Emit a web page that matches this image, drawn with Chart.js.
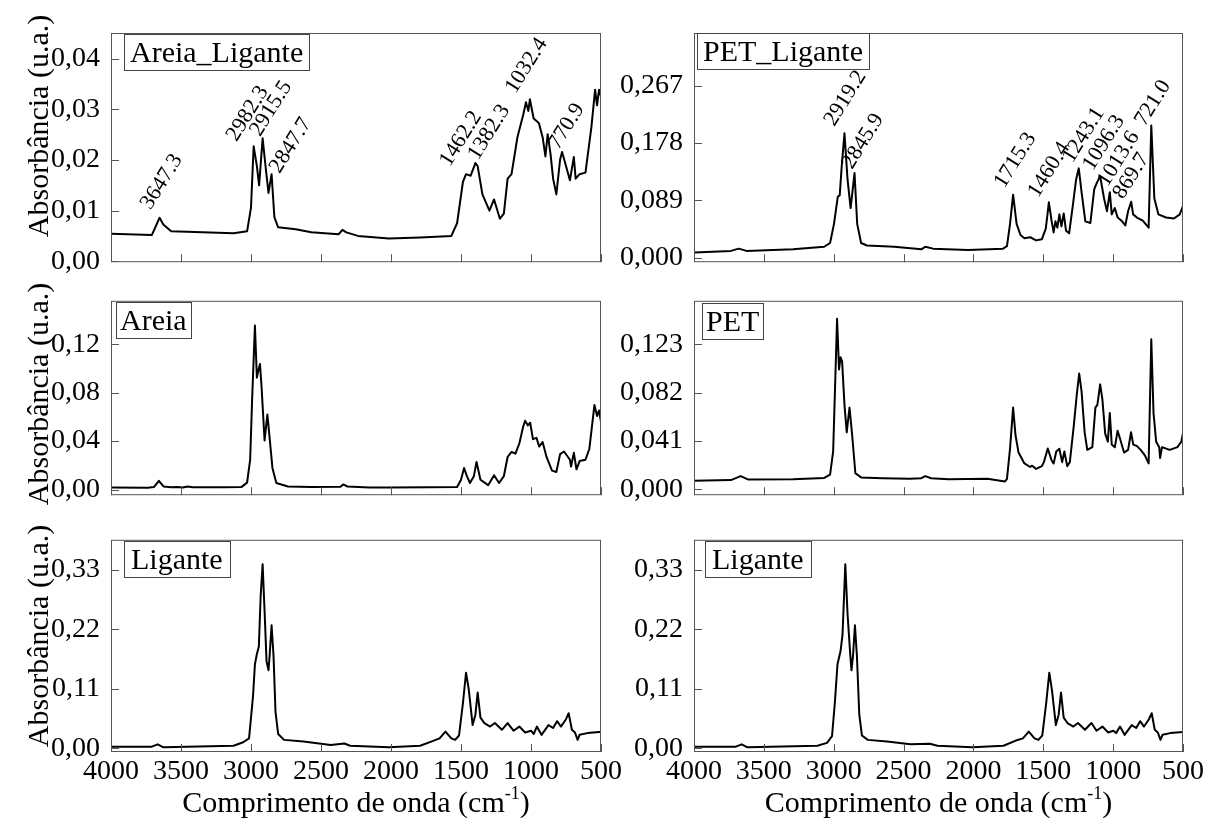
<!DOCTYPE html>
<html>
<head>
<meta charset="utf-8">
<title>FTIR</title>
<script src="https://cdn.jsdelivr.net/npm/chart.js@4.4.1/dist/chart.umd.min.js"></script>
<style>
  html, body { margin: 0; padding: 0; background: #fff; overflow: hidden; }
  body { width: 1208px; height: 823px; position: relative; }
  canvas { position: absolute; }
</style>
</head>
<body>
<canvas id="tl"></canvas>
<canvas id="ml"></canvas>
<canvas id="bl"></canvas>
<canvas id="tr"></canvas>
<canvas id="mr"></canvas>
<canvas id="br"></canvas>
<script>
// x axis (wavenumber, cm-1)
const xTicks = [4000, 3500, 3000, 2500, 2000, 1500, 1000, 500];

// Areia_Ligante
const areiaLiganteWn = [4000,3708,3680,3653,3625,3570,3125,3028,3000,2981,2958,2942,2917,2894,2875,2853,2833,2806,2681,2569,2375,2347,2319,2236,2014,1792,1569,1528,1486,1464,1431,1397,1381,1347,1297,1264,1222,1194,1167,1139,1097,1056,1036,1019,1008,981,944,917,897,881,861,842,819,792,778,750,722,694,681,653,611,569,542,528,514,500];
const areiaLiganteAbs = [0.0054,0.0052,0.0069,0.0086,0.0072,0.0059,0.0055,0.0059,0.0106,0.0227,0.0188,0.0150,0.0243,0.0182,0.0135,0.0172,0.0087,0.0067,0.0063,0.0057,0.0053,0.0062,0.0057,0.0050,0.0045,0.0047,0.0050,0.0075,0.0157,0.0172,0.0169,0.0194,0.0188,0.0132,0.0100,0.0122,0.0084,0.0094,0.0163,0.0172,0.0245,0.0289,0.0314,0.0297,0.0320,0.0282,0.0273,0.0245,0.0207,0.0251,0.0213,0.0163,0.0132,0.0201,0.0216,0.0188,0.0160,0.0206,0.0163,0.0172,0.0175,0.0264,0.0339,0.0308,0.0339,0.0326];
const areiaLiganteTicks = [0, 0.01, 0.02, 0.03, 0.04];
// [text, wavenumber, absorbance] where the rotated label starts
const areiaLigantePeaks = [
  ["3647.3", 3717, 0.0100], ["2982.3", 3103, 0.0235], ["2915.5", 2936, 0.0245], ["2847.7", 2796, 0.0172],
  ["1462.2", 1581, 0.0185], ["1382.3", 1379, 0.0198], ["1032.4", 1111, 0.0330], ["770.9", 804, 0.0219]
];

// Areia
const areiaWn = [4000,3736,3694,3658,3625,3569,3528,3486,3453,3417,3208,3069,3028,3006,2992,2972,2958,2950,2936,2925,2903,2883,2867,2847,2819,2736,2569,2361,2342,2311,2153,2014,1736,1528,1500,1478,1458,1436,1408,1389,1361,1306,1264,1228,1194,1167,1139,1111,1083,1056,1042,1022,1006,986,961,942,917,889,850,819,792,764,722,714,694,675,653,611,583,547,528,514,500];
const areiaAbs = [0.0016,0.0014,0.0020,0.0072,0.0025,0.0018,0.0020,0.0016,0.0025,0.0018,0.0018,0.0020,0.0057,0.0246,0.0744,0.1354,0.0924,0.0970,0.1037,0.0856,0.0405,0.0619,0.0427,0.0178,0.0054,0.0025,0.0020,0.0022,0.0042,0.0025,0.0016,0.0016,0.0018,0.0020,0.0081,0.0178,0.0110,0.0054,0.0110,0.0228,0.0081,0.0036,0.0118,0.0054,0.0110,0.0269,0.0310,0.0296,0.0382,0.0518,0.0568,0.0529,0.0552,0.0416,0.0427,0.0355,0.0393,0.0269,0.0156,0.0145,0.0292,0.0314,0.0246,0.0190,0.0303,0.0167,0.0235,0.0246,0.0337,0.0698,0.0608,0.0653,0.0560];
const areiaTicks = [0, 0.04, 0.08, 0.12];

// Ligante (left)
const liganteWn = [4000,3708,3667,3625,3125,3056,3014,2986,2972,2958,2944,2931,2917,2903,2889,2875,2867,2853,2839,2825,2806,2764,2625,2431,2333,2292,2014,1792,1708,1653,1611,1569,1542,1514,1486,1464,1444,1417,1397,1381,1361,1333,1292,1258,1208,1167,1125,1083,1042,1000,981,958,925,875,842,814,786,750,731,708,686,667,653,597,514,500];
const liganteAbs = [0.0033,0.0033,0.0077,0.0022,0.0050,0.0115,0.0186,0.0952,0.1555,0.1746,0.1883,0.2813,0.3404,0.2540,0.1609,0.1445,0.1710,0.2277,0.1710,0.0678,0.0268,0.0159,0.0131,0.0066,0.0093,0.0050,0.0022,0.0050,0.0131,0.0186,0.0312,0.0186,0.0159,0.0240,0.0843,0.1401,0.1080,0.0432,0.0624,0.1034,0.0570,0.0470,0.0405,0.0470,0.0345,0.0470,0.0328,0.0405,0.0296,0.0328,0.0268,0.0405,0.0252,0.0432,0.0378,0.0504,0.0405,0.0541,0.0652,0.0345,0.0296,0.0159,0.0252,0.0284,0.0306,0.0306];
const liganteTicks = [0, 0.11, 0.22, 0.33];

// PET_Ligante
const petLiganteWn = [4000,3736,3680,3624,3291,3068,3026,2998,2971,2957,2943,2923,2901,2879,2851,2832,2804,2762,2567,2373,2345,2289,2039,1788,1760,1738,1716,1691,1663,1635,1594,1552,1510,1482,1460,1440,1426,1413,1399,1385,1370,1354,1337,1315,1288,1265,1246,1226,1199,1163,1135,1116,1093,1065,1044,1024,1010,988,968,940,913,893,871,857,830,788,746,727,705,676,621,565,523,501];
const petLiganteAbs = [0.0084,0.0108,0.0143,0.0108,0.0133,0.0172,0.0231,0.0527,0.0945,0.0970,0.1412,0.1929,0.1215,0.0772,0.1314,0.0527,0.0231,0.0192,0.0172,0.0133,0.0172,0.0143,0.0123,0.0143,0.0182,0.0527,0.0979,0.0527,0.0354,0.0305,0.0320,0.0271,0.0290,0.0453,0.0861,0.0566,0.0394,0.0566,0.0468,0.0674,0.0488,0.0689,0.0419,0.0380,0.0822,0.1215,0.1387,0.1018,0.0566,0.0541,0.1067,0.1166,0.1265,0.0920,0.0723,0.1018,0.0674,0.0772,0.0625,0.0576,0.0502,0.0723,0.0870,0.0674,0.0625,0.0576,0.0468,0.2052,0.0920,0.0674,0.0625,0.0610,0.0674,0.0797];
const petLiganteTicks = [0, 0.089, 0.178, 0.267];
const petLigantePeaks = [
  ["2919.2", 2996, 0.2027], ["2845.9", 2870, 0.1362], ["1715.3", 1780, 0.1067], ["1460.4", 1537, 0.0920],
  ["1243.1", 1291, 0.1460], ["1096.3", 1146, 0.1340], ["1013.6", 1040, 0.1090], ["869.7", 929, 0.0896],
  ["721.0", 774, 0.2027]
];

// PET
const petWn = [4000,3736,3666,3611,3291,3068,3026,3004,2990,2976,2962,2951,2940,2923,2907,2887,2868,2845,2804,2651,2456,2373,2345,2303,2178,1900,1774,1760,1738,1716,1699,1677,1635,1594,1580,1552,1510,1496,1468,1440,1426,1407,1385,1365,1349,1329,1310,1282,1260,1243,1226,1204,1185,1149,1127,1113,1093,1077,1057,1038,1024,1010,988,968,950,922,893,872,856,831,803,773,746,727,711,692,670,664,650,595,540,512,501];
const petAbs = [0.0074,0.0079,0.0113,0.0083,0.0086,0.0097,0.0125,0.0322,0.0878,0.1445,0.1017,0.1119,0.1085,0.0716,0.0484,0.0693,0.0461,0.0137,0.0102,0.0095,0.0090,0.0095,0.0113,0.0095,0.0086,0.0090,0.0067,0.0090,0.0345,0.0693,0.0461,0.0312,0.0220,0.0190,0.0201,0.0174,0.0197,0.0231,0.0347,0.0245,0.0220,0.0322,0.0345,0.0231,0.0322,0.0197,0.0231,0.0536,0.0808,0.0982,0.0831,0.0484,0.0335,0.0358,0.0693,0.0716,0.0890,0.0763,0.0473,0.0404,0.0647,0.0380,0.0357,0.0497,0.0427,0.0312,0.0335,0.0484,0.0380,0.0369,0.0335,0.0289,0.0220,0.1272,0.0647,0.0404,0.0358,0.0266,0.0358,0.0335,0.0358,0.0404,0.0473];
const petTicks = [0, 0.041, 0.082, 0.123];

// Ligante (right)
const ligante2Wn = [4000,3700,3659,3617,3117,3048,3012,2992,2973,2951,2937,2917,2901,2881,2873,2862,2848,2834,2817,2798,2756,2618,2451,2312,2257,2007,1785,1701,1646,1604,1563,1535,1507,1479,1457,1438,1410,1390,1373,1354,1327,1285,1252,1202,1155,1119,1077,1035,999,979,951,918,867,835,807,779,744,724,702,680,661,647,591,500];
const ligante2Abs = [0.0033,0.0033,0.0077,0.0022,0.0050,0.0104,0.0230,0.0843,0.1555,0.1800,0.2102,0.3404,0.2485,0.1710,0.1445,0.1710,0.2277,0.1710,0.0624,0.0241,0.0159,0.0131,0.0077,0.0088,0.0050,0.0022,0.0050,0.0142,0.0186,0.0312,0.0186,0.0159,0.0240,0.0843,0.1401,0.1080,0.0432,0.0624,0.1034,0.0570,0.0470,0.0405,0.0470,0.0345,0.0470,0.0328,0.0405,0.0296,0.0328,0.0284,0.0405,0.0252,0.0432,0.0378,0.0504,0.0405,0.0541,0.0652,0.0345,0.0296,0.0159,0.0252,0.0284,0.0306];

const SERIF = '"Liberation Serif", "Times New Roman", serif';
const frameGray = '#555';

function comma(v, d) {
  return v.toFixed(d).replace('.', ',');
}

function makePanel(id, o) {
  const cv = document.getElementById(id);
  cv.width = o.w;
  cv.height = o.h;
  cv.style.left = o.left + 'px';
  cv.style.top = o.top + 'px';

  // frame, inward ticks, name box, peak labels and axis titles
  const decor = {
    id: 'decor_' + id,
    afterDraw(chart) {
      const ctx = chart.ctx, a = chart.chartArea;
      const sx = chart.scales.x, sy = chart.scales.y;
      ctx.save();
      ctx.strokeStyle = frameGray;
      ctx.lineWidth = 1;
      ctx.strokeRect(a.left + 0.5, a.top + 0.5, a.right - a.left - 1, a.bottom - a.top - 1);
      ctx.beginPath();
      xTicks.forEach(v => {
        const px = Math.round(sx.getPixelForValue(v)) + 0.5;
        ctx.moveTo(px, a.bottom);
        ctx.lineTo(px, a.bottom - 8);
      });
      o.yTicks.forEach(v => {
        const py = Math.round(sy.getPixelForValue(v)) + 0.5;
        ctx.moveTo(a.left, py);
        ctx.lineTo(a.left + 8, py);
      });
      ctx.stroke();

      ctx.fillStyle = '#000';
      ctx.textAlign = 'left';
      ctx.textBaseline = 'alphabetic';
      ctx.font = '30px ' + SERIF;
      const tw = ctx.measureText(o.name).width;
      const bx = a.left + o.boxDx, by = a.top + o.boxDy;
      ctx.strokeStyle = '#444';
      ctx.strokeRect(Math.round(bx) + 0.5, Math.round(by) + 0.5, Math.round(tw + 2 * o.boxPad), 36);
      ctx.fillText(o.name, bx + o.boxPad, by + 28);

      ctx.font = '22px ' + SERIF;
      (o.peaks || []).forEach(p => {
        ctx.save();
        ctx.translate(sx.getPixelForValue(p[1]), sy.getPixelForValue(p[2]));
        ctx.rotate(-58 * Math.PI / 180);
        ctx.fillText(p[0], 0, 0);
        ctx.restore();
      });

      if (o.yTitleY) {
        ctx.save();
        ctx.font = '30px ' + SERIF;
        ctx.translate(40, o.yTitleY);
        ctx.rotate(-Math.PI / 2);
        ctx.textAlign = 'center';
        ctx.textBaseline = 'middle';
        ctx.fillText('Absorbância (u.a.)', 0, 0);
        ctx.restore();
      }

      if (o.xTitleY) {
        const p1 = 'Comprimento de onda (cm', sup = '-1', p2 = ')';
        ctx.font = '30px ' + SERIF;
        const w1 = ctx.measureText(p1).width, w3 = ctx.measureText(p2).width;
        ctx.font = '18px ' + SERIF;
        const w2 = ctx.measureText(sup).width;
        let x = (a.left + a.right) / 2 - (w1 + w2 + w3) / 2;
        ctx.font = '30px ' + SERIF;
        ctx.fillText(p1, x, o.xTitleY);
        x += w1;
        ctx.font = '18px ' + SERIF;
        ctx.fillText(sup, x, o.xTitleY - 13);
        x += w2;
        ctx.font = '30px ' + SERIF;
        ctx.fillText(p2, x, o.xTitleY);
      }
      ctx.restore();
    }
  };

  new Chart(cv, {
    type: 'line',
    data: {
      datasets: [{
        data: o.wn.map((w, i) => ({ x: w, y: o.abs[i] })),
        borderColor: '#000',
        borderWidth: 2,
        borderJoinStyle: 'round',
        pointRadius: 0,
        tension: 0,
        fill: false
      }]
    },
    options: {
      responsive: false,
      animation: false,
      events: [],
      layout: {
        autoPadding: false,
        padding: { top: o.padTop, right: o.padRight, left: 0, bottom: 0 }
      },
      plugins: {
        legend: { display: false },
        tooltip: { enabled: false }
      },
      scales: {
        x: {
          type: 'linear',
          reverse: true,
          min: 500,
          max: 4000,
          afterBuildTicks: s => { s.ticks = xTicks.map(v => ({ value: v })); },
          afterFit: s => { s.height = o.xH; },
          grid: { display: false, drawTicks: false },
          border: { display: false },
          ticks: {
            display: !!o.xTitleY,
            autoSkip: false,
            maxRotation: 0,
            padding: 3,
            color: '#000',
            font: { family: SERIF, size: 28 },
            callback: v => String(v)
          }
        },
        y: {
          min: o.yMin,
          max: o.yMax,
          afterBuildTicks: s => { s.ticks = o.yTicks.map(v => ({ value: v })); },
          afterFit: s => { s.width = o.yW; },
          grid: { display: false, drawTicks: false },
          border: { display: false },
          ticks: {
            autoSkip: false,
            padding: 11,
            color: '#000',
            font: { family: SERIF, size: 28 },
            callback: v => comma(v, o.dec)
          }
        }
      }
    },
    plugins: [decor]
  });
}

makePanel('tl', {
  left: 0, top: 0, w: 631, h: 290, padTop: 33, padRight: 30, yW: 111, xH: 17,
  wn: areiaLiganteWn, abs: areiaLiganteAbs, yTicks: areiaLiganteTicks, dec: 2,
  yMin: -0.0002, yMax: 0.0451, name: 'Areia_Ligante', boxDx: 13, boxDy: 1, boxPad: 6,
  peaks: areiaLigantePeaks, yTitleY: 126
});
makePanel('ml', {
  left: 0, top: 273, w: 631, h: 250, padTop: 0, padRight: 30, yW: 111, xH: 13,
  wn: areiaWn, abs: areiaAbs, yTicks: areiaTicks, dec: 2,
  yMin: -0.0047, yMax: 0.1559, name: 'Areia', boxDx: 5, boxDy: 1, boxPad: 4,
  yTitleY: 121
});
makePanel('bl', {
  left: 0, top: 512, w: 631, h: 311, padTop: 0, padRight: 30, yW: 111, xH: 71,
  wn: liganteWn, abs: liganteAbs, yTicks: liganteTicks, dec: 2,
  yMin: -0.0065, yMax: 0.3856, name: 'Ligante', boxDx: 13, boxDy: 1, boxPad: 7,
  yTitleY: 124, xTitleY: 300
});
makePanel('tr', {
  left: 604, top: 0, w: 604, h: 290, padTop: 33, padRight: 25, yW: 90, xH: 17,
  wn: petLiganteWn, abs: petLiganteAbs, yTicks: petLiganteTicks, dec: 3,
  yMin: -0.0067, yMax: 0.3484, name: 'PET_Ligante', boxDx: 3, boxDy: 0, boxPad: 6,
  peaks: petLigantePeaks
});
makePanel('mr', {
  left: 604, top: 273, w: 604, h: 250, padTop: 0, padRight: 25, yW: 90, xH: 13,
  wn: petWn, abs: petAbs, yTicks: petTicks, dec: 3,
  yMin: -0.0049, yMax: 0.1598, name: 'PET', boxDx: 8, boxDy: 2, boxPad: 4
});
makePanel('br', {
  left: 604, top: 512, w: 604, h: 311, padTop: 0, padRight: 25, yW: 90, xH: 71,
  wn: ligante2Wn, abs: ligante2Abs, yTicks: liganteTicks, dec: 2,
  yMin: -0.0065, yMax: 0.3856, name: 'Ligante', boxDx: 11, boxDy: 1, boxPad: 7,
  xTitleY: 300
});
</script>
</body>
</html>
